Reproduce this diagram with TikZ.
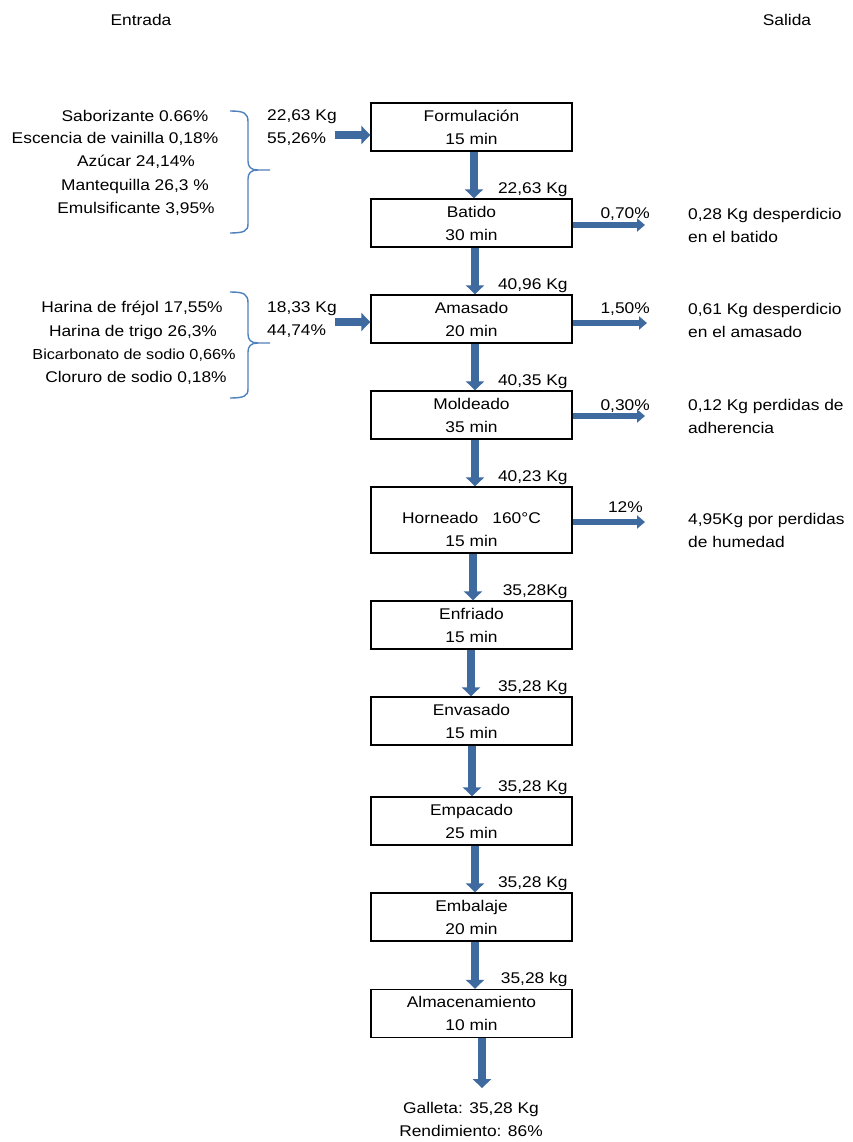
\documentclass[tikz,border=0pt]{standalone}
\usepackage{fontspec}
\setmainfont{Liberation Sans}[FakeStretch=1.12]
\usetikzlibrary{arrows.meta,calc}
\definecolor{flowblue}{RGB}{62,106,160}
\definecolor{bracecol}{RGB}{79,129,189}
\begin{document}
\begin{tikzpicture}[x=1pt,y=-1pt,
  every node/.style={font=\fontsize{15.5}{23}\selectfont, inner sep=0pt},
  box/.style={draw=black, line width=1.4pt, minimum width=201pt, minimum height=48pt, align=center},
  flow/.style={draw=flowblue, line width=8pt, -{Triangle[width=18pt,length=9pt]}},
  sideflow/.style={draw=flowblue, line width=5.5pt, -{Triangle[width=13pt,length=8pt]}},
  brc/.style={draw=bracecol, line width=1.4pt},
  kg/.style={anchor=base east},
  outtxt/.style={anchor=west, align=left},
  small/.style={font=\fontsize{14.5}{23}\selectfont}]
\fill[white] (0,0) rectangle (852,1142);
\useasboundingbox (0,0) rectangle (852,1142);

% titles
\node (entrada) at (141,20) {Entrada};
\node (salida) at (787,20) {Salida};

% process boxes
\node[box] (form) at (471.5,127) {Formulación\\15 min};
\node[box] (bat) at (471.5,223) {Batido\\30 min};
\node[box] (ama) at (471.5,319) {Amasado\\20 min};
\node[box] (mol) at (471.5,415) {Moldeado\\35 min};
\node[box, minimum height=66pt] (hor) at (471.5,520) {\rule{0pt}{31pt}Horneado\hspace{14pt}160°C\\15 min};
\node[box] (enf) at (471.5,625) {Enfriado\\15 min};
\node[box] (env) at (471.5,721) {Envasado\\15 min};
\node[box] (emp) at (471.5,821) {Empacado\\25 min};
\node[box] (emb) at (471.5,917) {Embalaje\\20 min};
\node[box] (alm) at (471.5,1013.5) {Almacenamiento\\10 min};

% mass labels
\node[kg] (k1) at ([xshift=-5pt,yshift=5pt]bat.north east) {22,63 Kg};
\node[kg] (k2) at ([xshift=-5pt,yshift=5pt]ama.north east) {40,96 Kg};
\node[kg] (k3) at ([xshift=-5pt,yshift=5pt]mol.north east) {40,35 Kg};
\node[kg] (k4) at ([xshift=-5pt,yshift=5pt]hor.north east) {40,23 Kg};
\node[kg] (k5) at ([xshift=-5pt,yshift=5pt]enf.north east) {35,28Kg};
\node[kg] (k6) at ([xshift=-5pt,yshift=5pt]env.north east) {35,28 Kg};
\node[kg] (k7) at ([xshift=-5pt,yshift=5pt]emp.north east) {35,28 Kg};
\node[kg] (k8) at ([xshift=-5pt,yshift=5pt]emb.north east) {35,28 Kg};
\node[kg] (k9) at ([xshift=-5pt,yshift=5pt]alm.north east) {35,28 kg};

% vertical flows
\draw[flow] ([xshift=2.5pt]form.south) -- ([xshift=2.5pt]bat.north);
\draw[flow] ([xshift=3.5pt]bat.south) -- ([xshift=3.5pt]ama.north);
\draw[flow] ([xshift=3.5pt]ama.south) -- ([xshift=3.5pt]mol.north);
\draw[flow] ([xshift=3.5pt]mol.south) -- ([xshift=3.5pt]hor.north);
\draw[flow] ([xshift=1.5pt]hor.south) -- ([xshift=1.5pt]enf.north);
\draw[flow] ([xshift=-0.5pt]enf.south) -- ([xshift=-0.5pt]env.north);
\draw[flow] ([xshift=0.5pt]env.south) -- ([xshift=0.5pt]emp.north);
\draw[flow] ([xshift=3.5pt]emp.south) -- ([xshift=3.5pt]emb.north);
\draw[flow] ([xshift=3.5pt]emb.south) -- ([xshift=3.5pt]alm.north);

% final output
\node[align=center] (out) at (471,1119.5) {Galleta: 35,28 Kg\\Rendimiento: 86\%};
\draw[flow] ([xshift=10.5pt]alm.south) -- ([xshift=11pt,yshift=14pt]out.north);

% side outputs
\coordinate (e1) at (645,225);
\coordinate (e2) at (647,323);
\coordinate (e3) at (645,416);
\coordinate (e4) at (645,522);
\draw[sideflow] (bat.east |- e1) -- (e1);
\draw[sideflow] (ama.east |- e2) -- (e2);
\draw[sideflow] (mol.east |- e3) -- (e3);
\draw[sideflow] (hor.east |- e4) -- (e4);
\node[kg] (p1) at (650,218.5) {0,70\%};
\node[kg] (p2) at (650,313.5) {1,50\%};
\node[kg] (p3) at (650,410.5) {0,30\%};
\node[kg] (p4) at (643,512.5) {12\%};
\node[outtxt] (o1) at (688,225) {0,28 Kg desperdicio\\en el batido};
\node[outtxt] (o2) at (688,320) {0,61 Kg desperdicio\\en el amasado};
\node[outtxt] (o3) at (688,416.5) {0,12 Kg perdidas de\\adherencia};
\node[outtxt] (o4) at (688,530) {4,95Kg por perdidas\\de humedad};

% inputs 1
\node (a1) at (135,116) {Saborizante 0.66\%};
\node (a2) at (115,139) {Escencia de vainilla 0,18\%};
\node (a3) at (136,162) {Azúcar 24,14\%};
\node (a4) at (135,186) {Mantequilla 26,3 \%};
\node (a5) at (136,209) {Emulsificante 3,95\%};
\draw[brc] (230,111) .. controls (244,111) and (248,113) .. (248,122) -- (248,161) .. controls (248,167) and (251,170) .. (258,170) -- (270,170);
\draw[brc] (258,170) .. controls (251,170) and (248,173) .. (248,179) -- (248,224) .. controls (248,231) and (244,233) .. (230,233);
\node[outtxt, anchor=west] (m1) at (267,127.5) {22,63 Kg\\55,26\%};
\coordinate (i1) at (335,135);
\draw[flow] (i1) -- (i1 -| form.west);

% inputs 2
\node (b1) at (132,308) {Harina de fréjol 17,55\%};
\node (b2) at (133,332) {Harina de trigo 26,3\%};
\node[small] (b3) at (134,355) {Bicarbonato de sodio 0,66\%};
\node (b4) at (136,378) {Cloruro de sodio 0,18\%};
\draw[brc] (230,292) .. controls (244,292) and (248,294) .. (248,303) -- (248,334) .. controls (248,340) and (251,343) .. (258,343) -- (270,343);
\draw[brc] (258,343) .. controls (251,343) and (248,346) .. (248,352) -- (248,389) .. controls (248,396) and (244,398) .. (230,398);
\node[outtxt] (m2) at (267,320) {18,33 Kg\\44,74\%};
\coordinate (i2) at (335,322);
\draw[flow] (i2) -- (i2 -| ama.west);
\end{tikzpicture}
\end{document}
